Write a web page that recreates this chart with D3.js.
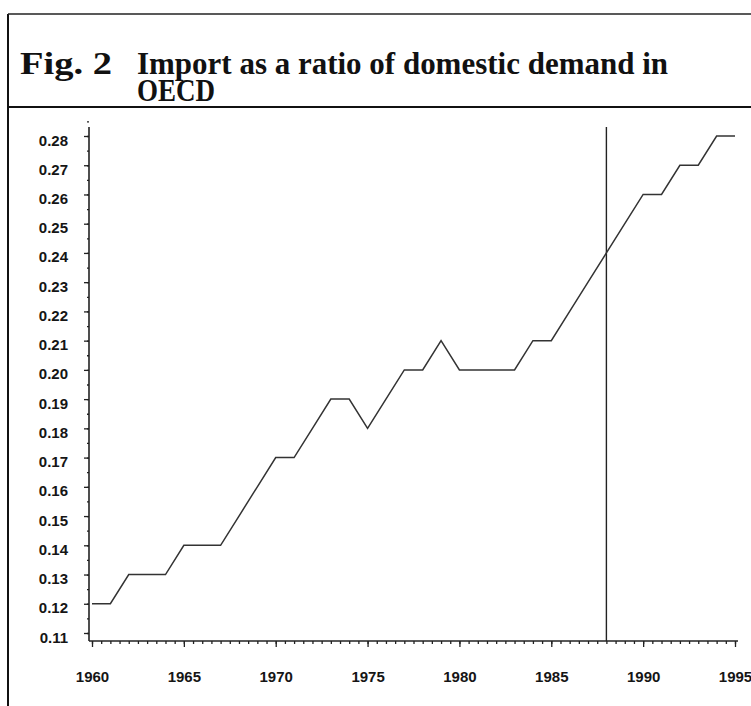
<!DOCTYPE html>
<html>
<head>
<meta charset="utf-8">
<script src="https://cdn.jsdelivr.net/npm/d3@7"></script>
<style>
  body { margin: 0; background: #fff; }
  svg { display: block; }
  .tick text { font-family: "Liberation Sans", Arial, sans-serif; font-weight: bold; font-size: 15px; fill: #151515; }
</style>
</head>
<body>
<div class="chart"></div>
<script>
// values
var years = d3.range(1960, 1996);
var ratio = [0.12, 0.12, 0.13, 0.13, 0.13, 0.14, 0.14, 0.14, 0.15, 0.16,
             0.17, 0.17, 0.18, 0.19, 0.19, 0.18, 0.19, 0.20, 0.20, 0.21,
             0.20, 0.20, 0.20, 0.20, 0.21, 0.21, 0.22, 0.23, 0.24, 0.25,
             0.26, 0.26, 0.27, 0.27, 0.28, 0.28];
var yTicks = d3.range(11, 29).map(function(d) { return d / 100; });
var xTicks = [1960, 1965, 1970, 1975, 1980, 1985, 1990, 1995];
var markerYear = 1988;
var titleLines = ["Import as a ratio of domestic demand in", "OECD"];

var width = 751, height = 706;

var svg = d3.select(".chart").append("svg")
    .attr("width", width)
    .attr("height", height);

// frame round the figure
svg.append("line").attr("x1", 8).attr("x2", 8).attr("y1", 14).attr("y2", height)
    .attr("stroke", "#111").attr("stroke-width", 2);
svg.append("line").attr("x1", 8).attr("x2", width).attr("y1", 14).attr("y2", 14)
    .attr("stroke", "#222").attr("stroke-width", 1.5);
svg.append("line").attr("x1", 8).attr("x2", width).attr("y1", 107).attr("y2", 107)
    .attr("stroke", "#111").attr("stroke-width", 2);

// title (condensed bold serif, squeezed to the widths in the figure)
var title = svg.append("g")
    .attr("font-family", "'Liberation Serif', 'Times New Roman', serif")
    .attr("font-weight", "bold")
    .attr("font-size", 31)
    .attr("fill", "#111");
title.append("text").attr("x", 20).attr("y", 74).attr("textLength", 92)
    .attr("lengthAdjust", "spacingAndGlyphs").text("Fig. 2");
title.append("text").attr("x", 137).attr("y", 74).attr("textLength", 531)
    .attr("lengthAdjust", "spacingAndGlyphs").text(titleLines[0]);
title.append("text").attr("x", 137).attr("y", 101).attr("textLength", 78)
    .attr("lengthAdjust", "spacingAndGlyphs").text(titleLines[1]);

// scales
var x = d3.scaleLinear().domain([1960, 1995]).range([92, 735]);
var y = d3.scaleLinear().domain([0.11, 0.28]).range([633, 136]);
var yTop = 127, yBottom = 641, xLeft = 89, xRight = 738;

var g = svg.append("g");

// x axis: minor ticks every half year, major every 5 years
g.append("g")
    .attr("transform", "translate(0," + yBottom + ")")
    .call(d3.axisBottom(x).tickValues(d3.range(1960, 1995.5, 0.5)).tickSize(3).tickFormat(""))
    .call(function(a) { a.select(".domain").remove(); });
g.append("g")
    .attr("transform", "translate(0," + yBottom + ")")
    .call(d3.axisBottom(x).tickValues(xTicks).tickSize(6).tickPadding(24).tickFormat(d3.format("d")))
    .call(function(a) { a.select(".domain").remove(); });

// y axis: minor ticks every 0.005, major every 0.01
g.append("g")
    .attr("transform", "translate(" + xLeft + ",0)")
    .call(d3.axisLeft(y).tickValues(d3.range(0.11, 0.2851, 0.005)).tickSize(2).tickFormat(""))
    .call(function(a) { a.select(".domain").remove(); });
g.append("g")
    .attr("transform", "translate(" + xLeft + ",0)")
    .call(d3.axisLeft(y).tickValues(yTicks).tickSize(5).tickPadding(16).tickFormat(d3.format(".2f")))
    .call(function(a) {
      a.select(".domain").remove();
      a.selectAll("text").attr("dy", "0.6em");
    });

g.selectAll(".tick line").attr("stroke", "#222").attr("stroke-width", 1.3);

// axis lines
g.append("line").attr("x1", xLeft).attr("x2", xLeft).attr("y1", yTop).attr("y2", yBottom)
    .attr("stroke", "#222").attr("stroke-width", 1.6);
g.append("line").attr("x1", xLeft).attr("x2", xRight).attr("y1", yBottom).attr("y2", yBottom)
    .attr("stroke", "#222").attr("stroke-width", 1.6);

// vertical marker
g.append("line")
    .attr("x1", x(markerYear)).attr("x2", x(markerYear))
    .attr("y1", yTop).attr("y2", yBottom)
    .attr("stroke", "#222").attr("stroke-width", 1.4);

// series
var line = d3.line()
    .x(function(d, i) { return x(years[i]); })
    .y(function(d) { return y(d); });

g.append("path")
    .datum(ratio)
    .attr("d", line)
    .attr("fill", "none")
    .attr("stroke", "#333")
    .attr("stroke-width", 1.5)
    .attr("stroke-linejoin", "miter");
</script>
</body>
</html>
